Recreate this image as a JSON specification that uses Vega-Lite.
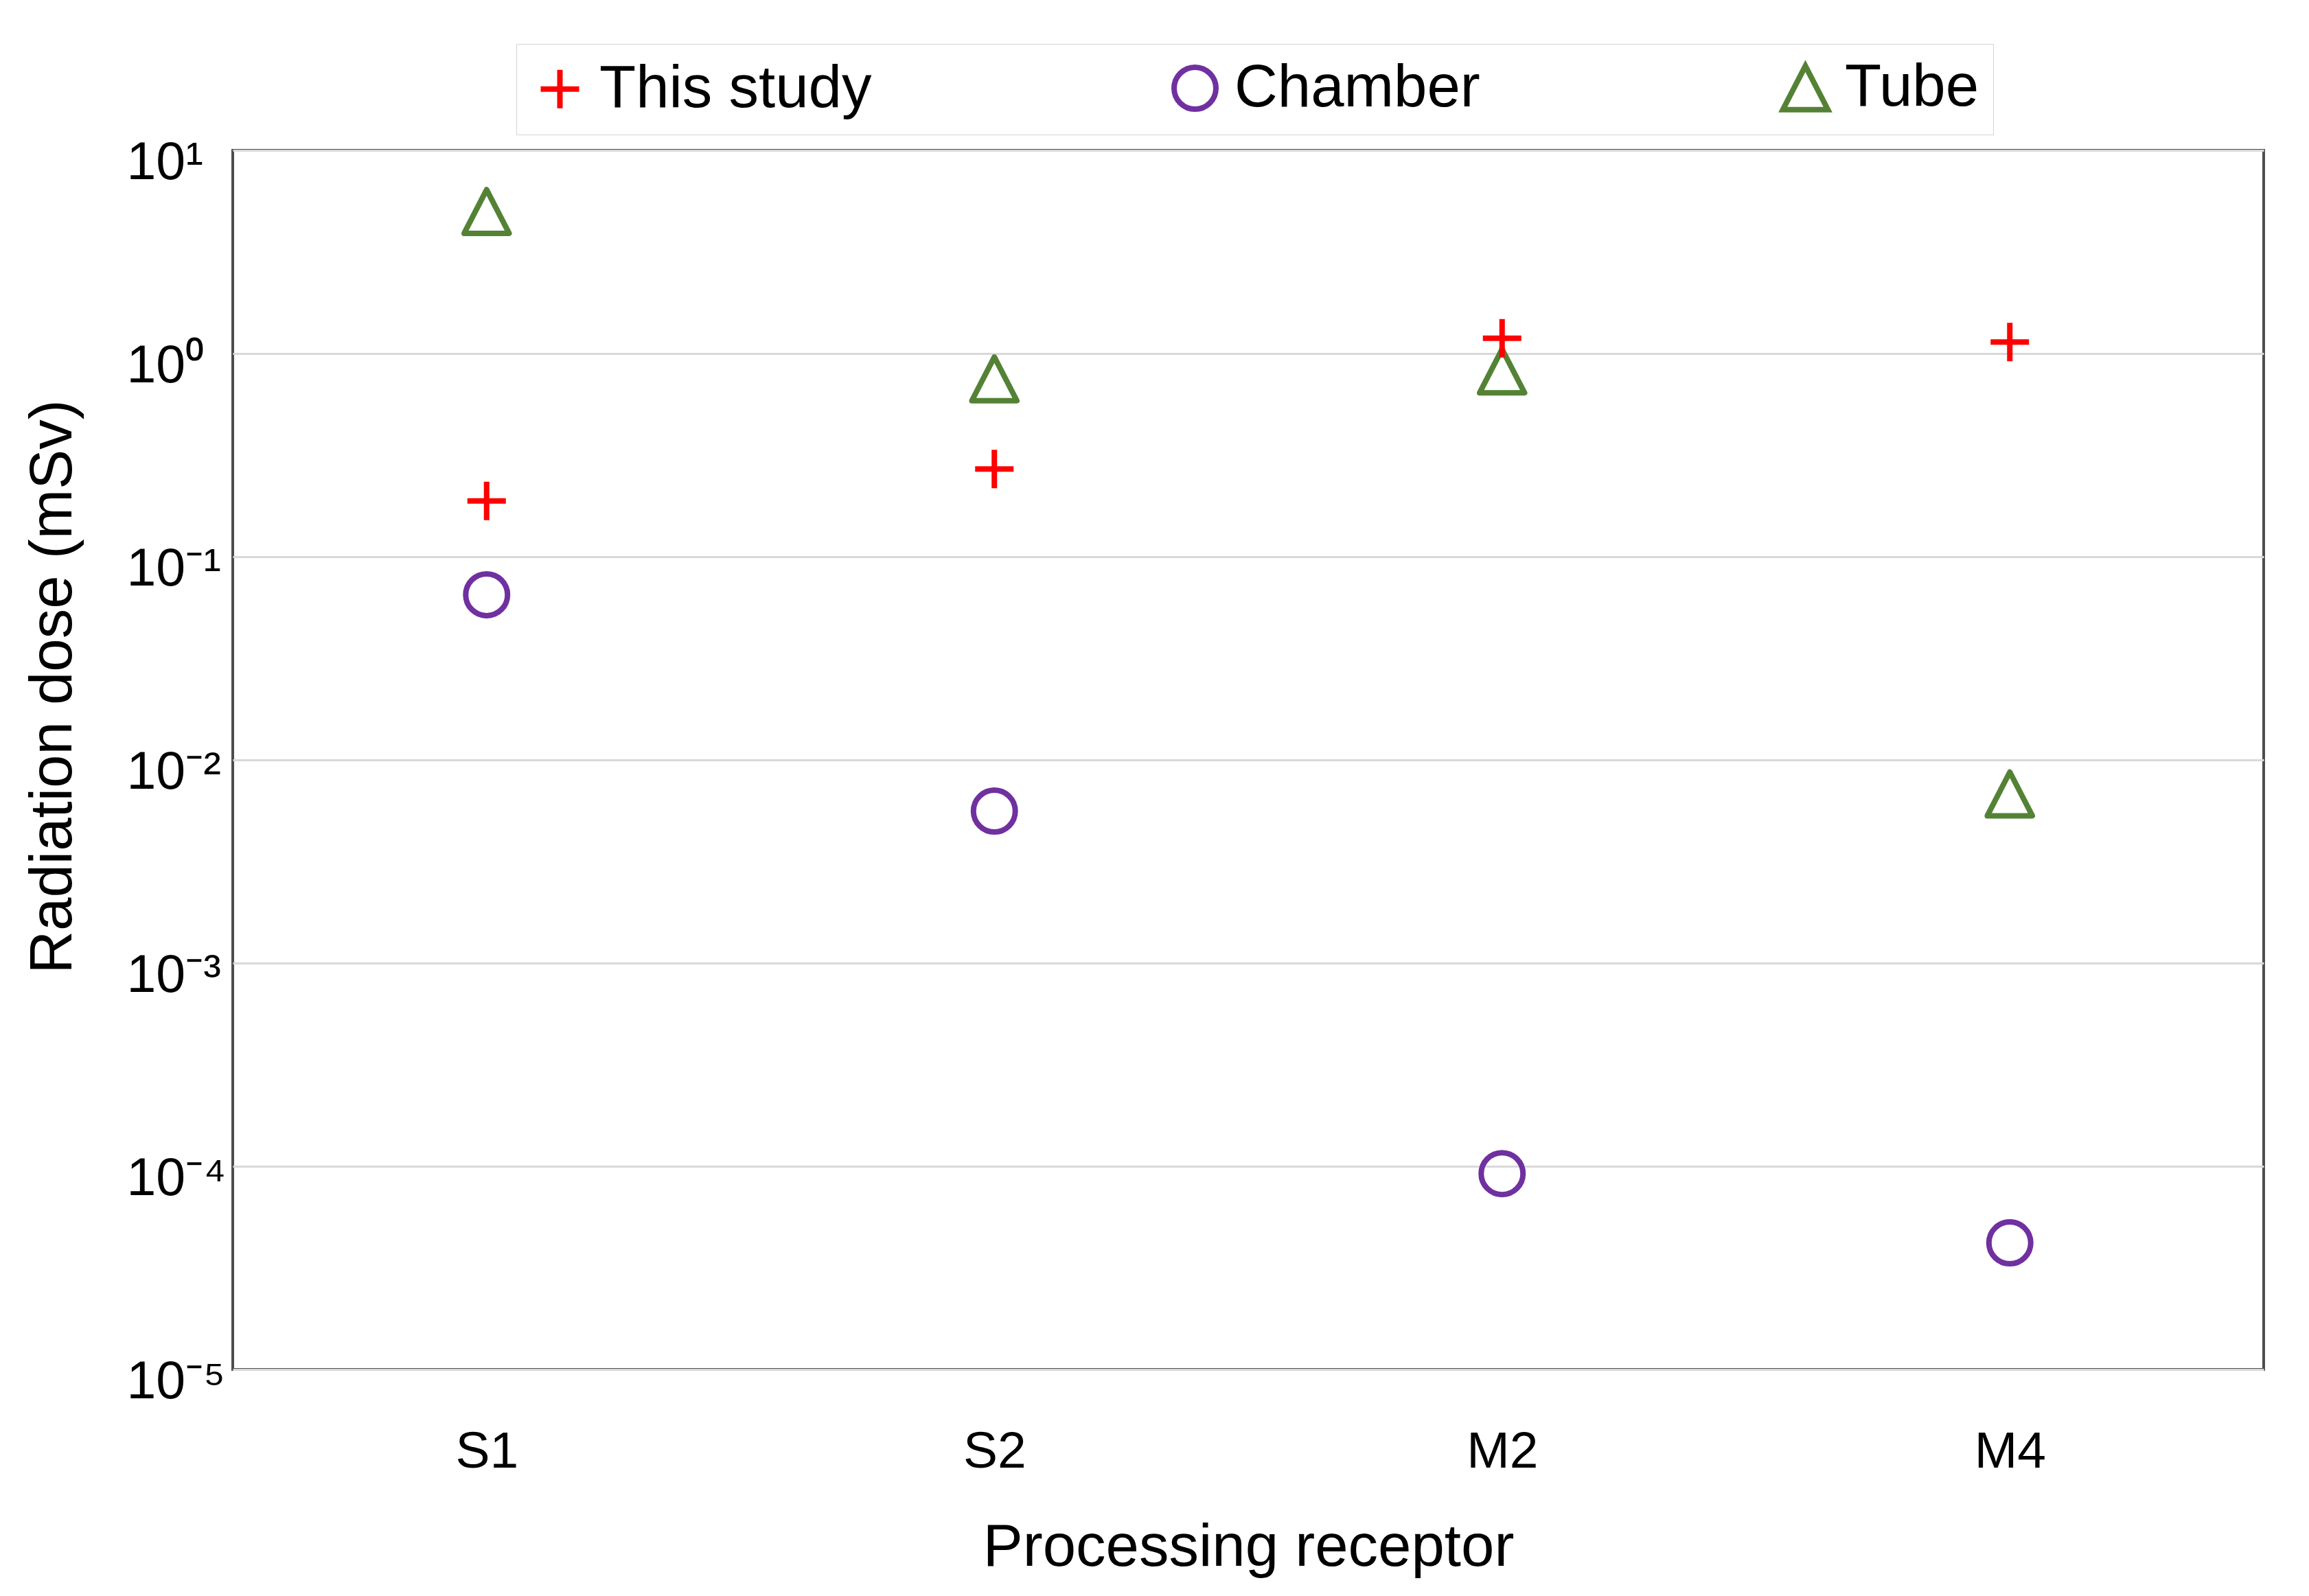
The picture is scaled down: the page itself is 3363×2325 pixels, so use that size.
{
  "$schema": "https://vega.github.io/schema/vega-lite/v6.json",
  "autosize": {"type": "none"},
  "padding": {"left": 339, "top": 219, "right": 66, "bottom": 330},
  "width": 2958,
  "height": 1776,
  "background": "white",
  "data": {
    "values": [
      {"receptor": "S1", "series": "Tube", "dose": 5.0},
      {"receptor": "S2", "series": "Tube", "dose": 0.75},
      {"receptor": "M2", "series": "Tube", "dose": 0.82},
      {"receptor": "M4", "series": "Tube", "dose": 0.0068},
      {"receptor": "S1", "series": "Chamber", "dose": 0.065},
      {"receptor": "S2", "series": "Chamber", "dose": 0.0056},
      {"receptor": "M2", "series": "Chamber", "dose": 0.000092},
      {"receptor": "M4", "series": "Chamber", "dose": 0.000042},
      {"receptor": "S1", "series": "This study", "dose": 0.188},
      {"receptor": "S2", "series": "This study", "dose": 0.27},
      {"receptor": "M2", "series": "This study", "dose": 1.19},
      {"receptor": "M4", "series": "This study", "dose": 1.14}
    ]
  },
  "mark": {"type": "point", "filled": false, "opacity": 1, "strokeJoin": "round"},
  "encoding": {
    "x": {
      "field": "receptor",
      "type": "nominal",
      "sort": ["S1", "S2", "M2", "M4"],
      "scale": {"type": "point", "padding": 0.5},
      "axis": {
        "title": "Processing receptor",
        "labelAngle": 0,
        "ticks": false,
        "tickSize": 0,
        "domain": false,
        "grid": false,
        "labelFont": "Liberation Sans",
        "labelFontSize": 75,
        "labelColor": "#000000",
        "labelBaseline": "alphabetic",
        "labelPadding": 142,
        "titleFont": "Liberation Sans",
        "titleFontSize": 87,
        "titleFontWeight": "normal",
        "titleColor": "#000000",
        "titleBaseline": "alphabetic",
        "titleY": 285
      }
    },
    "y": {
      "field": "dose",
      "type": "quantitative",
      "scale": {"type": "log", "domain": [0.00001, 10], "nice": false},
      "axis": {
        "title": "Radiation dose (mSv)",
        "values": [0.00001, 0.0001, 0.001, 0.01, 0.1, 1, 10],
        "labelExpr": "datum.value > 5 ? '10¹' : datum.value > 0.5 ? '10⁰' : datum.value > 0.05 ? '10⁻¹' : datum.value > 0.005 ? '10⁻²' : datum.value > 0.0005 ? '10⁻³' : datum.value > 0.00005 ? '10⁻⁴' : '10⁻⁵'",
        "ticks": false,
        "tickSize": 0,
        "domain": false,
        "grid": true,
        "gridColor": "#d9d9d9",
        "gridWidth": 3,
        "labelFont": "Liberation Sans",
        "labelFontSize": 77,
        "labelColor": "#000000",
        "labelAlign": "left",
        "labelBaseline": "alphabetic",
        "labelPadding": 155,
        "labelOffset": 41,
        "labelOverlap": false,
        "labelBound": false,
        "titleFont": "Liberation Sans",
        "titleFontSize": 87,
        "titleFontWeight": "normal",
        "titleColor": "#000000",
        "titleBaseline": "alphabetic",
        "titleX": -236,
        "titleY": 781
      }
    },
    "color": {
      "field": "series",
      "type": "nominal",
      "scale": {"domain": ["This study", "Chamber", "Tube"], "range": ["#ff0000", "#7030a0", "#548235"]},
      "legend": {
        "title": null,
        "orient": "none",
        "direction": "horizontal",
        "legendX": 413,
        "legendY": -155,
        "padding": 20,
        "strokeColor": "#d4d4d4",
        "fillColor": "white",
        "columnPadding": 424,
        "labelFont": "Liberation Sans",
        "labelFontSize": 87,
        "labelColor": "#000000",
        "labelOffset": 14,
        "labelLimit": 1000,
        "symbolSize": 2200,
        "symbolStrokeWidth": 7
      }
    },
    "shape": {
      "field": "series",
      "type": "nominal",
      "scale": {"domain": ["This study", "Chamber", "Tube"], "range": ["M-1,0L1,0M0,-1L0,1", "circle", "M0,-0.97L1,0.97L-1,0.97Z"]}
    },
    "size": {
      "field": "series",
      "type": "nominal",
      "scale": {"domain": ["This study", "Chamber", "Tube"], "range": [3136, 4300, 4900]},
      "legend": null
    },
    "strokeWidth": {
      "field": "series",
      "type": "nominal",
      "scale": {"domain": ["This study", "Chamber", "Tube"], "range": [8, 8, 8]},
      "legend": null
    }
  },
  "config": {
    "view": {"stroke": "#4d4d4d", "strokeWidth": 4},
    "font": "Liberation Sans"
  }
}
